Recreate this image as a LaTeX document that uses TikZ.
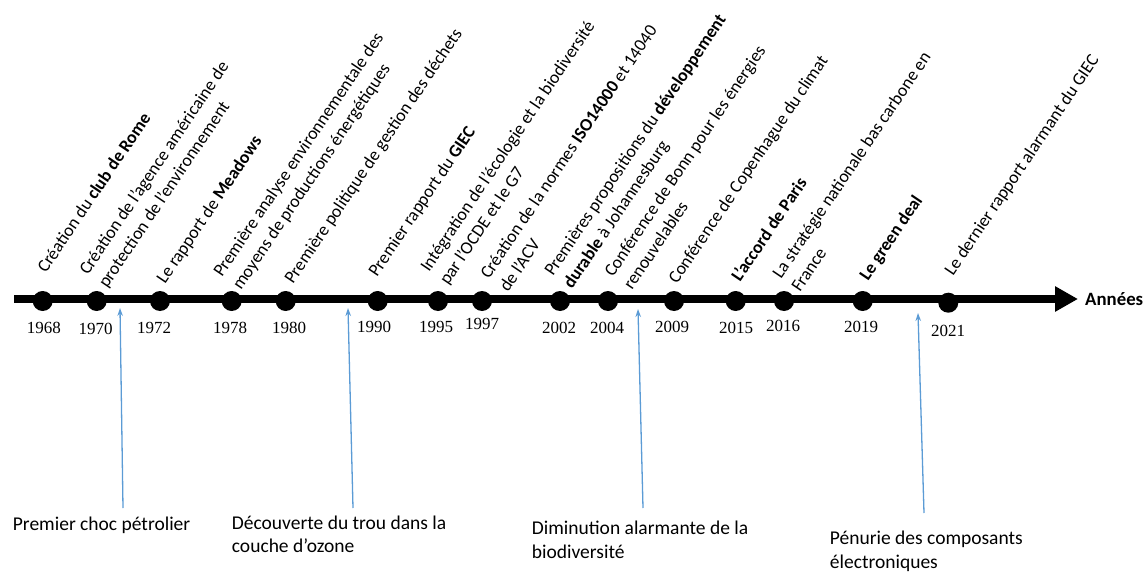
\documentclass[tikz,border=0pt]{standalone}
\usepackage{fontspec}
\setmainfont{Carlito}
\newfontfamily\yearfont{Liberation Serif}
\usepackage{tikz}
\usetikzlibrary{arrows.meta}
\definecolor{arrowblue}{RGB}{91,155,213}

\begin{document}
\begin{tikzpicture}
[x=1pt, y=-1pt,
  eventlabel/.style={rotate=56, anchor=base west, inner sep=0pt, align=left,
    font=\fontsize{17.8}{23}\selectfont},
  yearlabel/.style={anchor=base, inner sep=0pt, font=\yearfont\fontsize{17}{20}\selectfont},
  yeardot/.style={circle, fill=black, inner sep=0pt, minimum size=20pt},
  notelabel/.style={anchor=base west, inner sep=0pt, align=left,
    font=\fontsize{19.5}{23.5}\selectfont},
  causearrow/.style={arrowblue, line width=1.3pt, -{Stealth[length=8pt,width=5.5pt]}}]
  \useasboundingbox (0,0) rectangle (1148,572);

  % time axis
  \coordinate (axisstart) at (14,299);
  \coordinate (axistip) at (1078,299);
  \draw[line width=7.5pt, -{Triangle[length=23pt,width=24pt]}] (axisstart) -- (axistip);
  \node[anchor=base west, inner sep=0pt, font=\bfseries\fontsize{18.8}{22}\selectfont]
    (annees) at (1085,305) {Années};

  % dots and years
  \foreach \yr/\x/\y/\xl/\yl in {1968/42.7/301/43.8/333, 1970/96.7/301/95.5/334,
      1972/160/301/154/333, 1978/231.7/301/230/333, 1980/285.7/301/289/333,
      1990/377.7/301/374/332, 1995/438/301/436/332, 1997/482/301/482/329,
      2002/560/301/559/333, 2004/608/301/607/333, 2009/674/301/672/332,
      2015/735.7/301/736/333, 2016/784/301/783/331, 2019/862.7/301/861/332,
      2021/948.3/302.7/948/336} {
    \node[yeardot] (d\yr) at (\x,\y) {};
    \node[yearlabel] (y\yr) at (\xl,\yl) {\yr};
  }

  % events (placed at the start of their last line)
  \node[eventlabel] (e1968) at (46,274) {Création du \textbf{club de Rome}};
  \node[eventlabel] (e1970) at (107,289) {Création de l’agence américaine de\\protection de l’environnement};
  \node[eventlabel] (e1972) at (165,285) {Le rapport de \textbf{Meadows}};
  \node[eventlabel] (e1978) at (241,291) {Première analyse environnementale des\\moyens de productions énergétiques};
  \node[eventlabel] (e1980) at (293,285) {Première politique de gestion des déchets};
  \node[eventlabel] (e1990) at (377,278) {Premier rapport du \textbf{GIEC}};
  \node[eventlabel] (e1995) at (448,286) {Intégration de l’écologie et la biodiversité\\par l’OCDE et le G7};
  \node[eventlabel] (e1997) at (508,293) {Création de la normes \textbf{ISO14000} et 14040\\de l’ACV};
  \node[eventlabel] (e2002) at (572,290) {Premières propositions du \textbf{développement}\\\textbf{durable} à Johannesburg};
  \node[eventlabel] (e2004) at (632,291) {Conférence de Bonn pour les énergies\\renouvelables};
  \node[eventlabel] (e2009) at (677,285) {Conférence de Copenhague du climat};
  \node[eventlabel] (e2015) at (740,283) {\textbf{L’accord de Paris}};
  \node[eventlabel] (e2016) at (800,293) {La stratégie nationale bas carbone en\\France};
  \node[eventlabel] (e2019) at (868,282) {\textbf{Le green deal}};
  \node[eventlabel] (e2021) at (953,277) {Le dernier rapport alarmant du GIEC};

  % causes below the axis
  \node[notelabel] (choc) at (12.7,530) {Premier choc pétrolier};
  \node[notelabel] (ozone) at (231.7,552.7) {Découverte du trou dans la\\couche d’ozone};
  \node[notelabel] (biodiv) at (531.7,558) {Diminution alarmante de la\\biodiversité};
  \node[notelabel] (penurie) at (829.7,568) {Pénurie des composants\\électroniques};

  \coordinate (chocfrom) at (123,508);   \coordinate (chocto) at (120,308);
  \coordinate (ozonefrom) at (353,508);  \coordinate (ozoneto) at (348,308);
  \coordinate (biodivfrom) at (643,508); \coordinate (biodivto) at (638,309);
  \coordinate (penuriefrom) at (924,513); \coordinate (penurieto) at (918,313);
  \draw[causearrow] (chocfrom) -- (chocto);
  \draw[causearrow] (ozonefrom) -- (ozoneto);
  \draw[causearrow] (biodivfrom) -- (biodivto);
  \draw[causearrow] (penuriefrom) -- (penurieto);
\end{tikzpicture}
\end{document}
